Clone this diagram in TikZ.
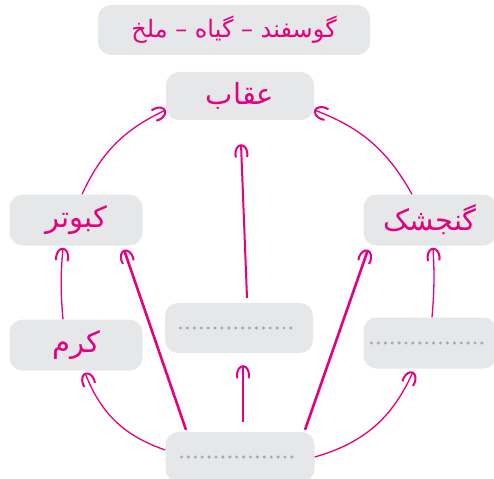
\documentclass[tikz,border=0pt]{standalone}
\usepackage{fontspec}
\usepackage{tikz}
\usetikzlibrary{arrows.meta, positioning}
\TeXXeTstate=1
\newfontfamily\arabicfont[Script=Arabic]{DejaVu Sans}
\definecolor{chainpink}{HTML}{E6007E}
\definecolor{cardgray}{HTML}{E6E7E8}
\definecolor{dotgray}{HTML}{A7A9AC}
\newcommand{\fa}[1]{{\arabicfont\beginR #1\endR}}
\newcommand{\blankrow}{\tikz\draw[dotgray, line width=3.4pt, line cap=round, dash pattern=on 0pt off 6.9pt] (0pt,0pt) -- (117pt,0pt);}

\tikzset{
    card/.style={fill=cardgray, rounded corners=13pt, inner sep=0pt,
        minimum width=133pt, minimum height=51pt, text=chainpink,
        font=\fontsize{29}{33}\selectfont},
    feeds/.style={->, chainpink, line width=1.3pt},
    >={Arc Barb[arc=220, length=10pt, width=14pt, line width=2pt]},
}

\begin{document}
\begin{tikzpicture}[x=1pt, y=-1pt]
        \useasboundingbox (0,0) rectangle (494,478);

        \node[card, minimum width=272pt, minimum height=50pt, font=\fontsize{24}{28}\selectfont] (chain) at (234,30) {\fa{گوسفند – گیاه – ملخ}};
        \node[card, minimum width=148pt, minimum height=48pt] (eagle) at (240,96) {\fa{عقاب}};
        \node[card] (pigeon) at (76,220) {\fa{کبوتر}};
        \node[card] (sparrow) at (430,220) {\fa{گنجشک}};
        \node[card] (worm) at (76,345) {\fa{کرم}};
        \node[card, minimum width=148pt, minimum height=50pt] (mid) at (239,328) {\blankrow};
        \node[card] (rest) at (430,343) {\blankrow};
        \node[card, minimum width=149pt, minimum height=50pt] (plant) at (240,457) {\blankrow};

        % to the eagle
        \draw[feeds] ([xshift=6pt]pigeon.north) to[bend left=20] ([yshift=-14pt]eagle.west);
        \draw[feeds] ([xshift=-18pt]sparrow.north) to[bend right=20] ([yshift=-14pt]eagle.east);
        \draw[feeds, line width=2pt] ([xshift=8pt,yshift=5pt]mid.north) -- ([xshift=1pt,yshift=-24pt]eagle.south);

        % to the birds
        \draw[feeds] ([xshift=-13pt]worm.north) to[bend left=5] ([xshift=-13pt,yshift=-2pt]pigeon.south);
        \draw[feeds] ([xshift=2pt]rest.north) to[bend right=4] ([xshift=3pt,yshift=-2pt]sparrow.south);
        \draw[feeds, line width=2.6pt] ([xshift=-54pt,yshift=2pt]plant.north) -- ([xshift=48pt,yshift=-4pt]pigeon.south);
        \draw[feeds, line width=2.6pt] ([xshift=65pt,yshift=2pt]plant.north) -- ([xshift=-62pt,yshift=-4pt]sparrow.south);

        % from the bottom
        \draw[feeds, line width=2pt] ([xshift=3pt,yshift=10pt]plant.north) -- ([xshift=4pt,yshift=-12pt]mid.south);
        \draw[feeds] ([yshift=7pt]plant.west) to[bend left=25] ([xshift=9pt,yshift=-2pt]worm.south);
        \draw[feeds] (plant.east) to[bend right=25] ([xshift=-17pt,yshift=-3pt]rest.south);
    \end{tikzpicture}
\end{document}
